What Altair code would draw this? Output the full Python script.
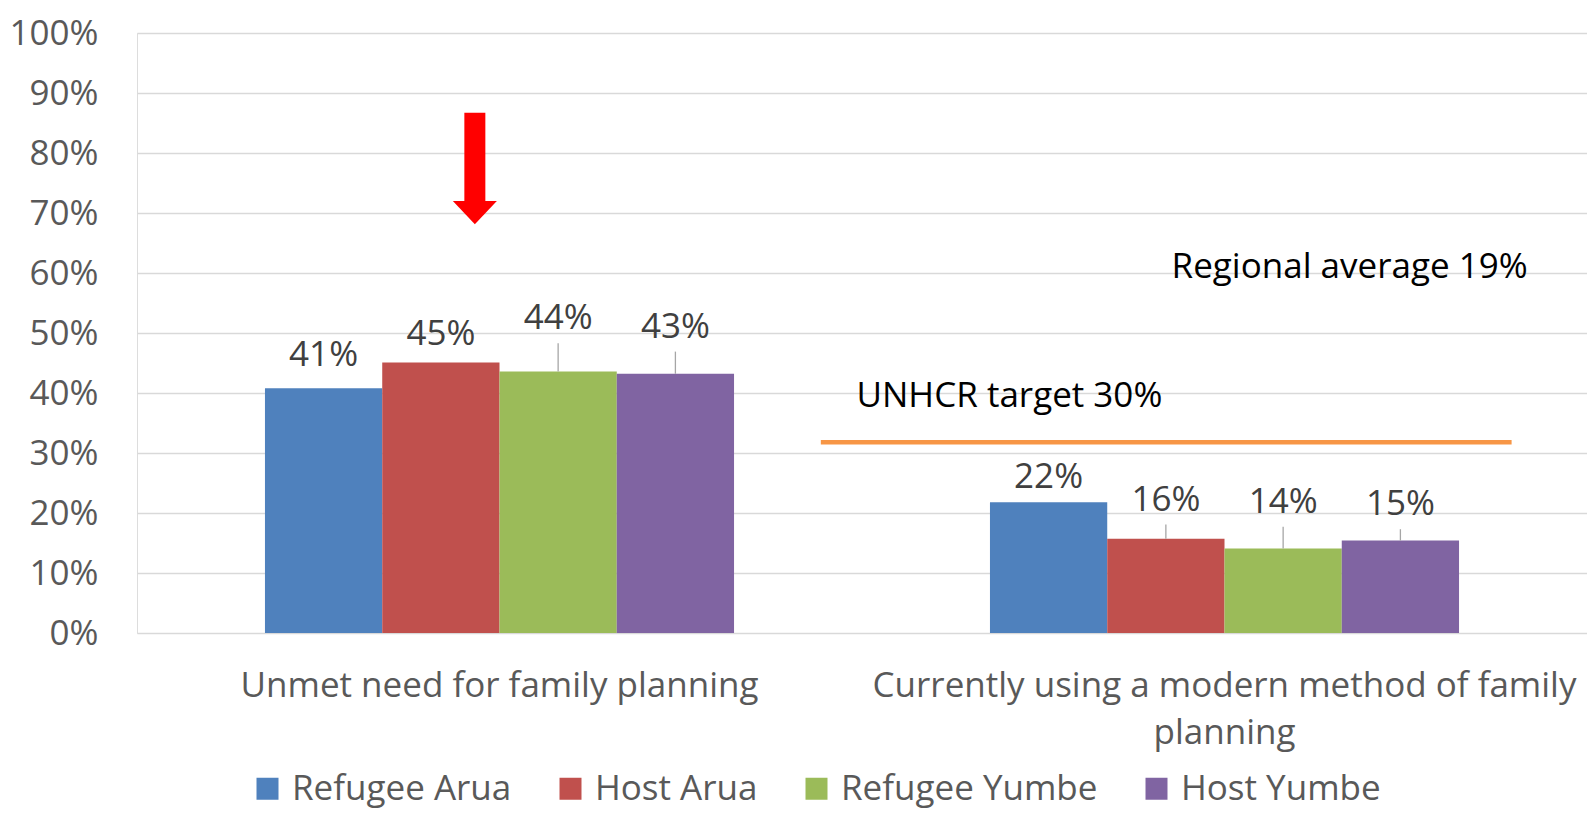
import altair as alt
import pandas as pd

# ---- data ----
categories = ["Unmet need for family planning",
              "Currently using a modern method of family planning"]
groups = ["Refugee Arua", "Host Arua", "Refugee Yumbe", "Host Yumbe"]
colors = ["#4F81BD", "#C0504D", "#9BBB59", "#8064A2"]
unmet = [0.408, 0.451, 0.436, 0.432]
modern = [0.218, 0.157, 0.141, 0.154]
# heights (in data units) at which Excel placed each data label
label_unmet = [0.445, 0.480, 0.506, 0.492]
label_modern = [0.2415, 0.204, 0.200, 0.196]

unhcr_target = 0.318
unhcr_text = "UNHCR target 30%"
regional_text = "Regional average 19%"

FONT = "Open Sans"
FS = 35

rows = []
for cat, vals, labs in [(categories[0], unmet, label_unmet),
                        (categories[1], modern, label_modern)]:
    for g, v, l in zip(groups, vals, labs):
        rows.append({"category": cat, "group": g, "value": v, "label_at": l})
df = pd.DataFrame(rows)

yaxis = alt.Axis(values=[i / 10 for i in range(11)], format=".0%",
                 labelFontSize=FS, labelColor="#595959", labelFont=FONT,
                 labelPadding=39, domain=False, ticks=False,
                 gridColor="#d9d9d9", gridWidth=1.3, title=None)
yscale = alt.Scale(domain=[0, 1], nice=False, zero=True)

xaxis = alt.Axis(title=None, domain=False, ticks=False, labelAngle=0,
                 labelFontSize=FS, labelColor="#595959", labelFont=FONT,
                 labelPadding=35, labelLineHeight=47, labelLimit=1200,
                 labelBaseline="top",
                 labelExpr="datum.value == 'Currently using a modern method of family planning' ? "
                           "['Currently using a modern method of family', 'planning'] : datum.label")
xscale = alt.Scale(paddingInner=0.353, paddingOuter=0.1765)
xoff = alt.XOffset("group:N", sort=groups, scale=alt.Scale(paddingInner=0, paddingOuter=0))

base = alt.Chart(df)

bars = base.mark_bar().encode(
    x=alt.X("category:N", sort=categories, scale=xscale, axis=xaxis),
    xOffset=xoff,
    y=alt.Y("value:Q", scale=yscale, axis=yaxis),
    color=alt.Color("group:N", sort=groups,
                    scale=alt.Scale(domain=groups, range=colors),
                    legend=alt.Legend(orient="none", legendX=113, legendY=738,
                                      direction="horizontal", title=None,
                                      symbolType="square", symbolSize=484,
                                      symbolStrokeWidth=0, labelFontSize=FS,
                                      labelColor="#595959", labelFont=FONT,
                                      columnPadding=41, labelOffset=7,
                                      padding=0, labelLimit=600)),
)

labels = base.mark_text(fontSize=FS, font=FONT, color="#404040",
                        baseline="alphabetic", align="center").encode(
    x=alt.X("category:N", sort=categories, scale=xscale, axis=xaxis),
    xOffset=xoff,
    y=alt.Y("label_at:Q", scale=yscale, axis=yaxis),
    text=alt.Text("value:Q", format=".0%"),
)

leaders = base.transform_filter(
    "datum.label_at - datum.value > 0.04"
).transform_calculate(
    lead_top="datum.label_at - 0.023"
).mark_rule(color="#a6a6a6", strokeWidth=1.3).encode(
    x=alt.X("category:N", sort=categories, scale=xscale, axis=xaxis),
    xOffset=xoff,
    y=alt.Y("lead_top:Q", scale=yscale, axis=yaxis),
    y2="value:Q",
)

main = alt.layer(bars, leaders, labels)

# ---- annotations (positions as fractions of the plot width) ----
ann_x = alt.Scale(domain=[0, 1], nice=False, zero=False)

target_df = pd.DataFrame({"x": [0.4716], "x2": [0.948], "y": [unhcr_target]})
target = alt.Chart(target_df).mark_rule(color="#F79646", strokeWidth=4.6).encode(
    x=alt.X("x:Q", scale=ann_x, axis=None),
    x2="x2:Q",
    y=alt.Y("y:Q", scale=yscale, axis=yaxis),
)

text_df = pd.DataFrame({"x": [0.4962, 0.7135], "y": [0.3775, 0.592],
                        "t": [unhcr_text, regional_text]})
texts = alt.Chart(text_df).mark_text(fontSize=FS, font=FONT, color="#000000",
                                     align="left", baseline="alphabetic").encode(
    x=alt.X("x:Q", scale=ann_x, axis=None),
    y=alt.Y("y:Q", scale=yscale, axis=yaxis),
    text="t:N",
)

shaft_df = pd.DataFrame({"x": [0.233], "y": [0.867], "y2": [0.715]})
shaft = alt.Chart(shaft_df).mark_rule(color="#FF0000", strokeWidth=21,
                                      strokeCap="butt").encode(
    x=alt.X("x:Q", scale=ann_x, axis=None),
    y=alt.Y("y:Q", scale=yscale, axis=yaxis),
    y2="y2:Q",
)

head_df = pd.DataFrame({"x": [0.233], "y": [0.7016]})
head = alt.Chart(head_df).mark_point(shape="M-1,-0.5L1,-0.5L0,0.55Z", size=1936,
                                     filled=True, fill="#FF0000", opacity=1,
                                     strokeWidth=0).encode(
    x=alt.X("x:Q", scale=ann_x, axis=None),
    y=alt.Y("y:Q", scale=yscale, axis=yaxis),
)

annot = alt.layer(target, texts, shaft, head)

chart = alt.layer(main, annot).resolve_scale(x="independent").properties(
    width=1450, height=600,
    autosize=alt.AutoSizeParams(type="none"),
    padding={"left": 129, "top": 25, "right": 0, "bottom": 178},
    background="white",
).configure_view(stroke=None).configure(font=FONT)

chart.save("out.html", embed_options={"renderer": "svg", "actions": False})
